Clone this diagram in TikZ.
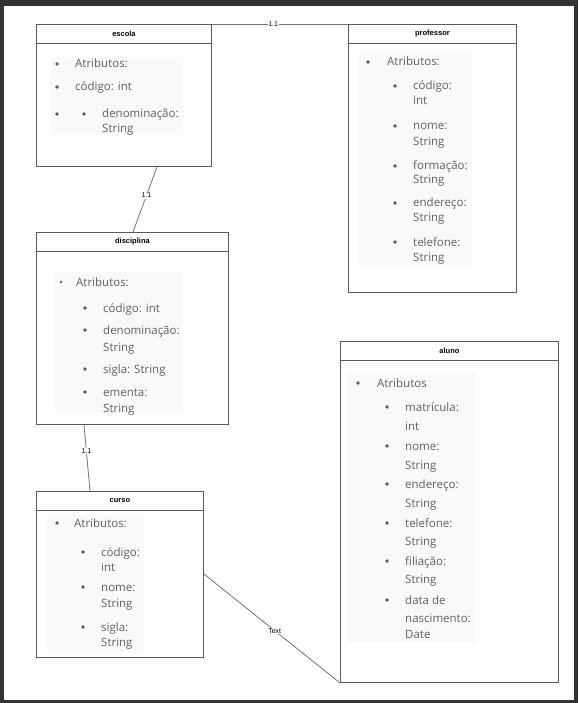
\documentclass[tikz,border=0pt]{standalone}
\usepackage{fontspec}
\setmainfont{Open Sans}
\newfontfamily\titlefont{Liberation Sans}
\usetikzlibrary{positioning}

\begin{document}
\begin{tikzpicture}
		[x=1pt, y=-1pt,
		 classbox/.style={draw=black!65, line width=0.9pt, anchor=north west, inner sep=0pt},
		 titlebox/.style={draw=black!65, line width=0.9pt, anchor=north west, minimum height=19pt, inner sep=0pt, font=\titlefont\fontsize{7.5}{9}\selectfont\bfseries},
		 attrbg/.style={fill=black!2.5},
		 attr/.style={anchor=base west, inner sep=0pt, text=black!62, font=\fontsize{11.5}{15}\selectfont},
		 dot/.style={fill=black!65},
		 link/.style={draw=black!55, line width=0.8pt},
		 mult/.style={fill=white, inner sep=0.6pt, font=\titlefont\fontsize{7}{8}\selectfont}]
		% frame
		\fill[black!80] (0,0) rectangle (578,703);
		\fill[white] (4,6) rectangle (574,700);

		% escola
		\node[classbox, minimum width=175pt, minimum height=142pt] (escola) at (36,24) {};
		\node[titlebox, minimum width=175pt] (escolatitle) at (escola.north west) {escola};
		\fill[attrbg] (50,57) rectangle (183,135);
		\fill[dot] (57,64) circle (1.8);
		\fill[dot] (57,87) circle (1.8);
		\fill[dot] (57,114) circle (1.8);
		\fill[dot] (84,114) circle (1.8);
		\node[attr] (esc1) at (75,68) {Atributos:};
		\node[attr] (esc2) at (75,91) {código: int};
		\node[attr] (esc3) at (102,118) {denominação:};
		\node[attr] (esc4) at (102,133) {String};

		% professor
		\node[classbox, minimum width=168pt, minimum height=268pt] (professor) at (348,24) {};
		\node[titlebox, minimum width=168pt] (professortitle) at (professor.north west) {professor};
		\fill[attrbg] (359,50) rectangle (472,265);
		\fill[dot] (368,62) circle (1.8);
		\fill[dot] (395,86) circle (1.8);
		\fill[dot] (395,126) circle (1.8);
		\fill[dot] (395,166) circle (1.8);
		\fill[dot] (395,203) circle (1.8);
		\fill[dot] (395,242) circle (1.8);
		\node[attr] (prof1) at (387,66) {Atributos:};
		\node[attr] (prof2) at (413,90) {código:};
		\node[attr] (prof3) at (413,105) {int};
		\node[attr] (prof4) at (413,130) {nome:};
		\node[attr] (prof5) at (413,146) {String};
		\node[attr] (prof6) at (413,170) {formação:};
		\node[attr] (prof7) at (413,184) {String};
		\node[attr] (prof8) at (413,207) {endereço:};
		\node[attr] (prof9) at (413,222) {String};
		\node[attr] (prof10) at (413,246) {telefone:};
		\node[attr] (prof11) at (413,261) {String};

		% disciplina
		\node[classbox, minimum width=192pt, minimum height=192pt] (disciplina) at (36,232) {};
		\node[titlebox, minimum width=192pt] (disciplinatitle) at (disciplina.north west) {disciplina};
		\fill[attrbg] (55,272) rectangle (183,413);
		\fill[dot] (61,282) circle (1.4);
		\fill[dot] (85,308) circle (1.8);
		\fill[dot] (85,330) circle (1.8);
		\fill[dot] (85,369) circle (1.8);
		\fill[dot] (85,392) circle (1.8);
		\node[attr] (disc1) at (76,286) {Atributos:};
		\node[attr] (disc2) at (103,312) {código: int};
		\node[attr] (disc3) at (103,334) {denominação:};
		\node[attr] (disc4) at (103,351) {String};
		\node[attr] (disc5) at (103,373) {sigla: String};
		\node[attr] (disc6) at (103,396) {ementa:};
		\node[attr] (disc7) at (103,412) {String};

		% curso
		\node[classbox, minimum width=167pt, minimum height=166pt] (curso) at (36,491) {};
		\node[titlebox, minimum width=167pt] (cursotitle) at (curso.north west) {curso};
		\fill[attrbg] (47,515) rectangle (144,652);
		\fill[dot] (57,523) circle (1.8);
		\fill[dot] (83,552) circle (1.8);
		\fill[dot] (83,587) circle (1.8);
		\fill[dot] (83,627) circle (1.8);
		\node[attr] (cur1) at (74,527) {Atributos:};
		\node[attr] (cur2) at (101,556) {código:};
		\node[attr] (cur3) at (101,571) {int};
		\node[attr] (cur4) at (101,591) {nome:};
		\node[attr] (cur5) at (101,607) {String};
		\node[attr] (cur6) at (101,631) {sigla:};
		\node[attr] (cur7) at (101,646) {String};

		% aluno
		\node[classbox, minimum width=218pt, minimum height=341pt] (aluno) at (340,341) {};
		\node[titlebox, minimum width=218pt] (alunotitle) at (aluno.north west) {aluno};
		\fill[attrbg] (347,373) rectangle (475,642);
		\fill[dot] (358,383) circle (1.8);
		\fill[dot] (387,407) circle (1.8);
		\fill[dot] (387,446) circle (1.8);
		\fill[dot] (387,484) circle (1.8);
		\fill[dot] (387,523) circle (1.8);
		\fill[dot] (387,561) circle (1.8);
		\fill[dot] (387,600) circle (1.8);
		\node[attr] (alu1) at (377,387) {Atributos};
		\node[attr] (alu2) at (405,411) {matrícula:};
		\node[attr] (alu3) at (405,430) {int};
		\node[attr] (alu4) at (405,450) {nome:};
		\node[attr] (alu5) at (405,469) {String};
		\node[attr] (alu6) at (405,488) {endereço:};
		\node[attr] (alu7) at (405,507) {String};
		\node[attr] (alu8) at (405,527) {telefone:};
		\node[attr] (alu9) at (405,545) {String};
		\node[attr] (alu10) at (405,565) {filiação:};
		\node[attr] (alu11) at (405,583) {String};
		\node[attr] (alu12) at (405,604) {data de};
		\node[attr] (alu13) at (405,622) {nascimento:};
		\node[attr] (alu14) at (405,638) {Date};

		% associations
		\draw[link] (escola.north east) -- node[mult, pos=0.45] {1.1} (professor.north west);
		\draw[link] ([xshift=121pt]escola.south west) -- node[mult, pos=0.44] {1.1} ([xshift=97pt]disciplina.north west);
		\draw[link] ([xshift=48pt]disciplina.south west) -- node[mult, pos=0.4] {1.1} ([xshift=54pt]curso.north west);
		\draw[link] ([yshift=-83pt]curso.north east) -- node[mult, pos=0.52] {Text} (aluno.south west);
	\end{tikzpicture}
\end{document}
